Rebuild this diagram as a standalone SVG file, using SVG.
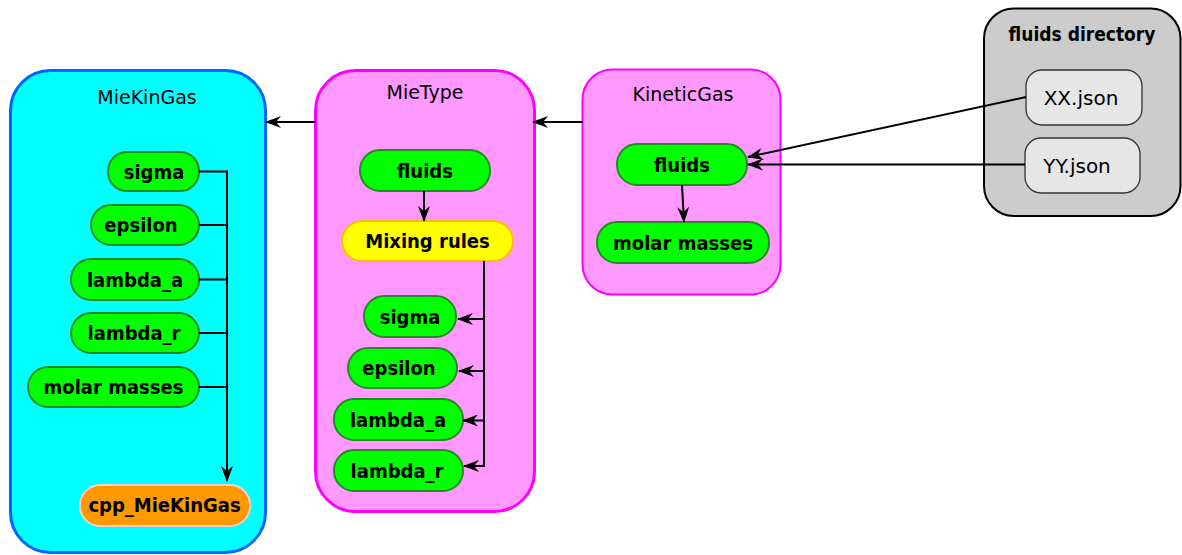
<svg xmlns="http://www.w3.org/2000/svg" width="1182" height="555" viewBox="0 0 1182 555">
  <defs>
    <marker id="arrow" viewBox="0 0 16 12" refX="15" refY="6" markerWidth="16" markerHeight="12" markerUnits="userSpaceOnUse" orient="auto">
      <path d="M0,0 L16,6 L0,12 L5,6 Z" fill="#000"/>
    </marker>
    <style>
      .title { font-family: "DejaVu Sans", Verdana, sans-serif; font-size: 19px; fill: #000; text-anchor: middle; }
      .label { font-family: "DejaVu Sans Condensed", "DejaVu Sans", sans-serif; font-stretch: condensed; font-weight: bold; font-size: 20px; fill: #000; text-anchor: middle; }
      .file  { font-family: "DejaVu Sans", Verdana, sans-serif; font-size: 20px; fill: #000; text-anchor: middle; }
      .green { fill: #00ff00; stroke: #228b22; stroke-width: 2; }
      .wire  { fill: none; stroke: #000; stroke-width: 2; }
      .arrowed { fill: none; stroke: #000; stroke-width: 2; marker-end: url(#arrow); }
    </style>
  </defs>

  <!-- containers -->
  <g id="MieKinGas">
    <rect x="10.5" y="70.5" width="255" height="482" rx="40" fill="#00ffff" stroke="#0066ff" stroke-width="3"/>
    <text class="title" x="147" y="104">MieKinGas</text>
  </g>
  <g id="MieType">
    <rect x="315.5" y="70.5" width="219" height="441" rx="40" fill="#ff99ff" stroke="#ff00ff" stroke-width="3"/>
    <text class="title" x="425" y="99">MieType</text>
  </g>
  <g id="KineticGas">
    <rect x="582.5" y="69.5" width="198" height="225" rx="30" fill="#ff99ff" stroke="#ff00ff" stroke-width="2"/>
    <text class="title" x="683" y="101">KineticGas</text>
  </g>
  <g id="fluids-directory">
    <rect x="984" y="8.5" width="196.5" height="207.5" rx="30" fill="#cccccc" stroke="#000" stroke-width="2"/>
    <text class="label" x="1082" y="41" style="font-size:19px">fluids directory</text>
  </g>

  <!-- MieKinGas members -->
  <g id="mkg-sigma">
    <rect class="green" x="108" y="152" width="91" height="39" rx="19"/>
    <text class="label" x="154" y="178.5">sigma</text>
  </g>
  <g id="mkg-epsilon">
    <rect class="green" x="91" y="205" width="108" height="40" rx="20"/>
    <text class="label" x="141" y="232">epsilon</text>
  </g>
  <g id="mkg-lambda_a">
    <rect class="green" x="71" y="259" width="128" height="41" rx="20"/>
    <text class="label" x="135" y="286.5">lambda_a</text>
  </g>
  <g id="mkg-lambda_r">
    <rect class="green" x="71" y="313" width="128" height="40" rx="20"/>
    <text class="label" x="134" y="340">lambda_r</text>
  </g>
  <g id="mkg-molar-masses">
    <rect class="green" x="28" y="367" width="171" height="40" rx="20"/>
    <text class="label" x="113.5" y="394">molar masses</text>
  </g>
  <g id="cpp_MieKinGas">
    <rect x="80" y="485" width="170" height="41" rx="20" fill="#ff9900" stroke="#ffcccc" stroke-width="2"/>
    <text class="label" x="164.5" y="512">cpp_MieKinGas</text>
  </g>

  <!-- MieType members -->
  <g id="mt-fluids">
    <rect class="green" x="360" y="150" width="130" height="41" rx="20"/>
    <text class="label" x="425" y="177.5">fluids</text>
  </g>
  <g id="mixing-rules">
    <rect x="342" y="221" width="171" height="40" rx="20" fill="#ffff00" stroke="#ffbb00" stroke-width="2"/>
    <text class="label" x="427.5" y="248">Mixing rules</text>
  </g>
  <g id="mt-sigma">
    <rect class="green" x="364" y="296" width="92" height="41" rx="20"/>
    <text class="label" x="410" y="323.5">sigma</text>
  </g>
  <g id="mt-epsilon">
    <rect class="green" x="348" y="348" width="109" height="40" rx="20"/>
    <text class="label" x="399" y="375">epsilon</text>
  </g>
  <g id="mt-lambda_a">
    <rect class="green" x="334" y="399" width="129" height="41" rx="20"/>
    <text class="label" x="398" y="426.5">lambda_a</text>
  </g>
  <g id="mt-lambda_r">
    <rect class="green" x="334" y="450" width="129" height="41" rx="20"/>
    <text class="label" x="397" y="477.5">lambda_r</text>
  </g>

  <!-- KineticGas members -->
  <g id="kg-fluids">
    <rect class="green" x="617" y="144" width="130" height="41" rx="20"/>
    <text class="label" x="682" y="171.5">fluids</text>
  </g>
  <g id="kg-molar-masses">
    <rect class="green" x="597" y="222" width="172" height="41" rx="20"/>
    <text class="label" x="683" y="249.5">molar masses</text>
  </g>

  <!-- fluid files -->
  <g id="xx-json">
    <rect x="1026" y="70" width="116" height="55" rx="16" fill="#e6e6e6" stroke="#333" stroke-width="1.3"/>
    <text class="file" x="1081" y="104.5">XX.json</text>
  </g>
  <g id="yy-json">
    <rect x="1025" y="138" width="115" height="55" rx="16" fill="#e6e6e6" stroke="#333" stroke-width="1.3"/>
    <text class="file" x="1077" y="172.5">YY.json</text>
  </g>

  <!-- connectors -->
  <g id="connectors">
    <!-- between containers -->
    <path class="arrowed" d="M316,122 L266,122"/>
    <path class="arrowed" d="M583,122 L533,122"/>
    <!-- fluid files into KineticGas -->
    <path class="arrowed" d="M1026,97 L748,157"/>
    <path class="arrowed" d="M1025,164.5 L748,164.5"/>
    <!-- KineticGas inner -->
    <path class="arrowed" d="M682,185 L684,222"/>
    <!-- MieType inner -->
    <path class="arrowed" d="M424,191 L424,221"/>
    <path class="wire" d="M484,261 L484,467"/>
    <path class="arrowed" d="M485,319 L458,319"/>
    <path class="arrowed" d="M485,371 L459,371"/>
    <path class="arrowed" d="M485,420.5 L463,420.5"/>
    <path class="arrowed" d="M485,466 L464,466"/>
    <!-- MieKinGas inner -->
    <path class="wire" d="M199,171.5 L227,171.5 M199,225 L227,225 M199,279.5 L227,279.5 M199,333 L227,333 M199,387 L227,387"/>
    <path class="arrowed" d="M227,170.5 L227,481"/>
  </g>
</svg>
